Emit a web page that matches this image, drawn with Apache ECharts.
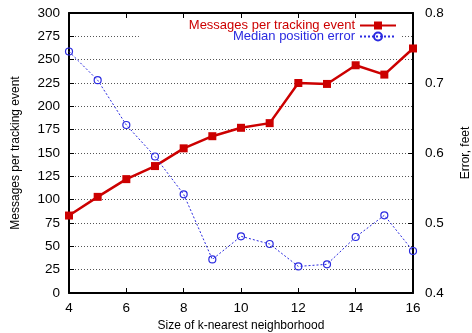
<!DOCTYPE html>
<html>
<head>
<meta charset="utf-8">
<script src="https://cdn.jsdelivr.net/npm/echarts@6/dist/echarts.min.js"></script>
<style>
  html, body { margin: 0; padding: 0; background: #fff; }
  #chart { width: 472px; height: 333px; }
</style>
</head>
<body>
<div id="chart"></div>
<script>
// Neighbourhood size k
const kValues = [4, 5, 6, 7, 8, 9, 10, 11, 12, 13, 14, 15, 16];
// Messages per tracking event (left axis)
const messages = [83, 103, 122, 136, 155, 168, 177, 182, 225, 224, 244, 234, 262];
// Median position error in feet (right axis)
const medianError = [0.745, 0.704, 0.640, 0.595, 0.541, 0.448, 0.481, 0.470, 0.438, 0.441, 0.480, 0.511, 0.460];

const RED = '#cc0000';
const BLUE = '#2a2ae0';
const FONT = 'Liberation Sans, Arial, sans-serif';

const chart = echarts.init(document.getElementById('chart'), null, { renderer: 'canvas' });

const frameLine = { show: true, onZero: false, lineStyle: { color: '#000', width: 2 } };

chart.setOption({
  animation: false,
  backgroundColor: '#fff',
  textStyle: { fontFamily: FONT },
  grid: { left: 69, right: 59, top: 13, bottom: 40, containLabel: false, outerBoundsMode: 'none' },
  legend: [
    {
      data: [{ name: 'Messages per tracking event' }],
      right: 72, top: 17,
      align: 'right',
      itemWidth: 36, itemHeight: 10,
      padding: [2, 3, 2, 3],
      textStyle: { color: RED, fontSize: 13, fontFamily: FONT },
      selectedMode: false
    },
    {
      data: [{ name: 'Median position error' }],
      right: 72, top: 29,
      align: 'right',
      itemWidth: 36, itemHeight: 10,
      padding: [1, 3, 2, 94],
      backgroundColor: '#fff',
      textStyle: { color: BLUE, fontSize: 13, fontFamily: FONT },
      selectedMode: false
    }
  ],
  xAxis: [
    {
      type: 'value', min: 4, max: 16, interval: 2,
      name: 'Size of k-nearest neighborhood',
      nameLocation: 'middle', nameGap: 27,
      nameTextStyle: { color: '#000', fontSize: 12, fontFamily: FONT },
      axisLine: frameLine,
      axisTick: { show: true, inside: true, length: 5, lineStyle: { color: '#000' } },
      axisLabel: { color: '#000', fontSize: 13.5, margin: 8, fontFamily: FONT },
      splitLine: { show: false }
    },
    {
      type: 'value', min: 4, max: 16, interval: 2, position: 'top',
      axisLine: frameLine,
      axisTick: { show: true, inside: true, length: 5, lineStyle: { color: '#000' } },
      axisLabel: { show: false },
      splitLine: { show: false }
    }
  ],
  yAxis: [
    {
      type: 'value', min: 0, max: 300, interval: 25,
      name: 'Messages per tracking event',
      nameLocation: 'middle', nameGap: 47,
      nameTextStyle: { color: '#000', fontSize: 12, fontFamily: FONT },
      axisLine: frameLine,
      axisTick: { show: true, inside: true, length: 5, lineStyle: { color: '#000' } },
      axisLabel: { color: '#000', fontSize: 13.5, margin: 9, fontFamily: FONT },
      splitLine: { show: true, lineStyle: { color: '#555', type: [1, 2], width: 1 } }
    },
    {
      type: 'value', min: 0.4, max: 0.8, interval: 0.1, position: 'right',
      name: 'Error, feet',
      nameLocation: 'middle', nameGap: 47, nameRotate: 90,
      nameTextStyle: { color: '#000', fontSize: 12, fontFamily: FONT },
      axisLine: frameLine,
      axisTick: { show: true, inside: true, length: 5, lineStyle: { color: '#000' } },
      axisLabel: { color: '#000', fontSize: 13.5, margin: 12, fontFamily: FONT,
                   formatter: v => v.toFixed(1) },
      splitLine: { show: false }
    }
  ],
  series: [
    {
      name: 'Messages per tracking event',
      type: 'line', xAxisIndex: 0, yAxisIndex: 0,
      data: kValues.map((k, i) => [k, messages[i]]),
      symbol: 'rect', symbolSize: 8,
      itemStyle: { color: RED },
      lineStyle: { color: RED, width: 2.5 },
      z: 3
    },
    {
      name: 'Median position error',
      type: 'line', xAxisIndex: 0, yAxisIndex: 1,
      data: kValues.map((k, i) => [k, medianError[i]]),
      symbol: 'circle', symbolSize: 7, showSymbol: true,
      itemStyle: { color: 'rgba(255,255,255,0)', borderColor: BLUE, borderWidth: 1.2 },
      lineStyle: { color: BLUE, width: 1, type: [2, 2] },
      z: 4
    }
  ]
});
</script>
</body>
</html>
